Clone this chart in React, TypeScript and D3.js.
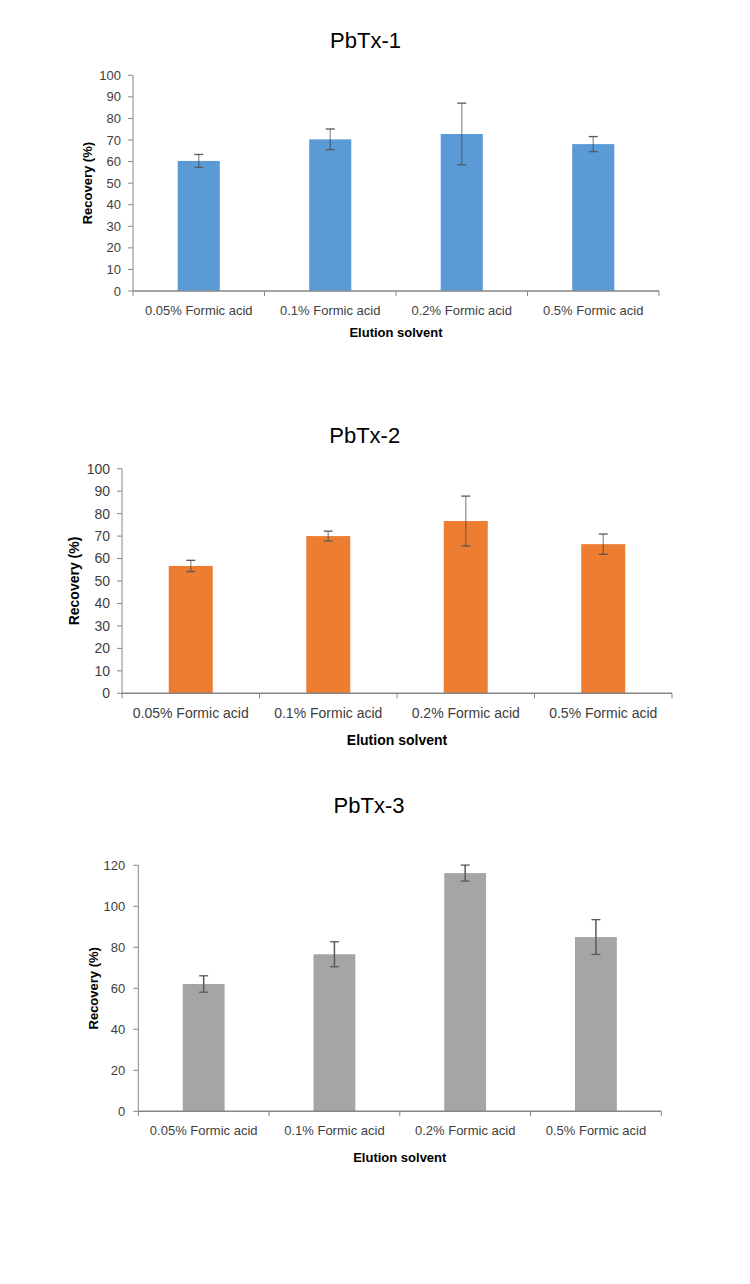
import React from "react";
import * as d3 from "d3";

const categories = ["0.05% Formic acid", "0.1% Formic acid", "0.2% Formic acid", "0.5% Formic acid"];

const pbtx1Values = [60.3, 70.3, 72.8, 68.1];
const pbtx1Errors = [3.0, 4.8, 14.3, 3.5];

const pbtx2Values = [56.7, 70.0, 76.7, 66.4];
const pbtx2Errors = [2.5, 2.2, 11.1, 4.5];

const pbtx3Values = [62.1, 76.6, 116.2, 85.0];
const pbtx3Errors = [4.0, 6.1, 3.9, 8.5];

const yTicks100 = [0, 10, 20, 30, 40, 50, 60, 70, 80, 90, 100];
const yTicks120 = [0, 20, 40, 60, 80, 100, 120];

const titles = ["PbTx-1", "PbTx-2", "PbTx-3"];
const xAxisTitle = "Elution solvent";
const yAxisTitle = "Recovery (%)";

type Cfg = {
  title: string;
  values: number[];
  errors: number[];
  ticks: number[];
  yMax: number;
  color: string;
  left: number;
  right: number;
  top: number;
  bottom: number;
  titleX: number;
  titleY: number;
  xLabelY: number;
  xTitleY: number;
  yTitleX: number;
  fs: number;
  labelGap: number;
  translucentErr: boolean;
};

const FONT = "'Liberation Sans', Arial, sans-serif";
const AXIS = "#868686";

function Chart({ c }: { c: Cfg }) {
  const x = d3
    .scaleBand<string>()
    .domain(categories)
    .range([c.left, c.right])
    .paddingInner(0.68)
    .paddingOuter(0.34);
  const y = d3.scaleLinear().domain([0, c.yMax]).range([c.bottom, c.top]);
  const step = (c.right - c.left) / categories.length;
  const boundaries = d3.range(categories.length + 1).map((i) => c.left + i * step);
  const capHalf = 4.5;
  return (
    <g>
      <text x={c.titleX} y={c.titleY} textAnchor="middle" fontSize={22} fontFamily={FONT} fill="#000">
        {c.title}
      </text>
      {/* y axis */}
      <line x1={c.left} x2={c.left} y1={c.top} y2={c.bottom} stroke={AXIS} strokeWidth={1} />
      {c.ticks.map((t) => (
        <g key={t}>
          <line x1={c.left - 5} x2={c.left} y1={y(t)} y2={y(t)} stroke={AXIS} />
          <text
            x={c.left - c.labelGap}
            y={y(t)}
            dy="0.35em"
            textAnchor="end"
            fontSize={c.fs}
            fontFamily={FONT}
            fill="#404040"
          >
            {t}
          </text>
        </g>
      ))}
      {/* bars */}
      {categories.map((cat, i) => (
        <rect
          key={cat}
          x={x(cat)}
          y={y(c.values[i])}
          width={x.bandwidth()}
          height={c.bottom - y(c.values[i])}
          fill={c.color}
        />
      ))}
      {/* x axis */}
      <line x1={c.left} x2={c.right} y1={c.bottom} y2={c.bottom} stroke={AXIS} strokeWidth={1.5} />
      {boundaries.map((b, i) => (
        <line key={i} x1={b} x2={b} y1={c.bottom} y2={c.bottom + 5} stroke={AXIS} />
      ))}
      {categories.map((cat) => (
        <text
          key={cat}
          x={(x(cat) as number) + x.bandwidth() / 2}
          y={c.xLabelY}
          textAnchor="middle"
          fontSize={c.fs}
          fontFamily={FONT}
          fill="#404040"
        >
          {cat}
        </text>
      ))}
      {/* error bars */}
      {categories.map((cat, i) => {
        const cx = (x(cat) as number) + x.bandwidth() / 2;
        const hi = y(c.values[i] + c.errors[i]);
        const lo = y(c.values[i] - c.errors[i]);
        return (
          <g key={"e" + cat}>
            <line
              x1={cx}
              x2={cx}
              y1={hi}
              y2={lo}
              stroke={c.translucentErr ? "rgba(50,50,50,0.45)" : "#595959"}
              strokeWidth={1.5}
            />
            <line x1={cx - capHalf} x2={cx + capHalf} y1={hi} y2={hi} stroke="#595959" strokeWidth={1.3} />
            <line x1={cx - capHalf} x2={cx + capHalf} y1={lo} y2={lo} stroke="#595959" strokeWidth={1.3} />
          </g>
        );
      })}
      <text
        x={(c.left + c.right) / 2}
        y={c.xTitleY}
        textAnchor="middle"
        fontSize={c.fs}
        fontWeight="bold"
        fontFamily={FONT}
        fill="#000"
      >
        {xAxisTitle}
      </text>
      <text
        transform={`translate(${c.yTitleX},${(c.top + c.bottom) / 2}) rotate(-90)`}
        dy="0.35em"
        textAnchor="middle"
        fontSize={c.fs}
        fontWeight="bold"
        fontFamily={FONT}
        fill="#000"
      >
        {yAxisTitle}
      </text>
    </g>
  );
}

const configs: Cfg[] = [
  {
    title: titles[0],
    values: pbtx1Values,
    errors: pbtx1Errors,
    ticks: yTicks100,
    yMax: 100,
    color: "#5B9BD5",
    left: 133,
    right: 659,
    top: 75.3,
    bottom: 291,
    titleX: 365.5,
    titleY: 48,
    xLabelY: 315,
    xTitleY: 337,
    yTitleX: 87.3,
    fs: 13,
    labelGap: 12,
    translucentErr: true,
  },
  {
    title: titles[1],
    values: pbtx2Values,
    errors: pbtx2Errors,
    ticks: yTicks100,
    yMax: 100,
    color: "#ED7D31",
    left: 122,
    right: 672,
    top: 468.7,
    bottom: 693.3,
    titleX: 364.7,
    titleY: 443,
    xLabelY: 718,
    xTitleY: 745,
    yTitleX: 74,
    fs: 14,
    labelGap: 12,
    translucentErr: true,
  },
  {
    title: titles[2],
    values: pbtx3Values,
    errors: pbtx3Errors,
    ticks: yTicks120,
    yMax: 120,
    color: "#A5A5A5",
    left: 138.3,
    right: 661.3,
    top: 865.3,
    bottom: 1111.3,
    titleX: 369,
    titleY: 813,
    xLabelY: 1135,
    xTitleY: 1162,
    yTitleX: 93.3,
    fs: 13,
    labelGap: 13,
    translucentErr: false,
  },
];

export default function App() {
  return (
    <svg
      width={750}
      height={1284}
      style={{ position: "absolute", left: 0, top: 0, background: "#fff" }}
    >
      <rect x={0} y={0} width={750} height={1284} fill="#fff" />
      {configs.map((c) => (
        <Chart key={c.title} c={c} />
      ))}
    </svg>
  );
}
